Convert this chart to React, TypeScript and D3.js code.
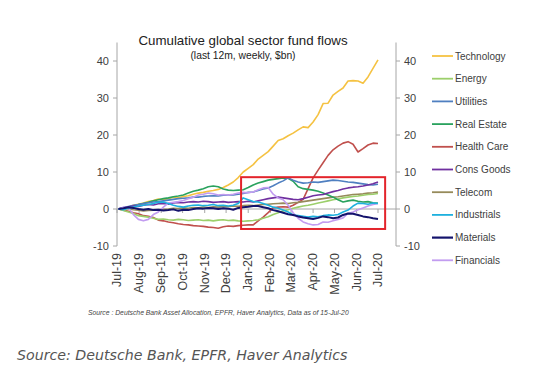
import React from "react";
import * as d3 from "d3";

const START = new Date(2019, 6, 3);
const weeks = d3.range(53).map((i) => d3.timeDay.offset(START, i * 7));

const monthLabels = ["Jul-19","Aug-19","Sep-19","Oct-19","Nov-19","Dec-19","Jan-20","Feb-20","Mar-20","Apr-20","May-20","Jun-20","Jul-20"];
const monthDates = d3.range(13).map((i) => new Date(2019, 6 + i, 1));
const yTicks = [-10, 0, 10, 20, 30, 40];

const technology = [0,0.3,0.5,1.0,1.3,1.6,2.0,2.3,2.7, 2.5,2.8,3.2,3.0,3.4,3.6,4.0,4.3, 4.5,4.8,5.0,5.3,5.8,6.5,7.3, 8.5,10.0,11.0,12.0,13.5,14.5,15.5, 17.0,18.5,19.0,19.8,20.5,21.4,22.2, 22.0,23.5,25.5,28.5,28.6,30.8,31.8, 32.7,34.6,34.7,34.6,34.0,35.7,38.0,40.3];
const energy = [0,-0.4,-0.8,-1.2,-1.8,-2.0,-2.2,-2.5,-2.8, -2.7,-2.9,-3.0,-2.8,-2.9,-3.1,-3.0,-2.9, -3.1,-3.0,-3.2,-3.0,-2.9,-3.1,-3.0, -3.2,-3.3,-3.2,-3.1,-2.9,-2.5,-2.1, -1.5,-1.0,-0.5,-0.2,0.2,0.5,0.8, 1.0,1.3,1.6,1.9,2.2,2.5,2.7, 3.0,3.2,3.4,3.5,3.7,3.9,4.0,4.2];
const utilities = [0,0.4,0.7,1.0,1.2,1.5,1.7,1.9,2.0, 2.2,2.4,2.6,2.8,2.9,3.0,3.2,3.2, 3.4,3.5,3.6,3.5,3.7,3.8,3.8, 4.0,4.2,4.5,4.6,5.0,5.4,5.7, 6.3,7.0,7.6,8.4,7.8,7.3,7.0, 7.1,7.3,7.2,7.4,7.6,7.8,7.7, 7.5,7.3,7.2,7.0,6.8,6.6,6.5,6.7];
const realEstate = [0,0.3,0.6,0.8,1.2,1.5,1.8,2.2,2.5, 2.8,3.0,3.3,3.5,3.8,4.3,4.8,5.1, 5.5,6.0,6.2,6.0,5.4,5.1,5.0, 5.1,5.2,5.8,6.5,7.0,7.4,7.8, 8.0,8.2,8.4,8.3,7.5,6.0,5.5, 5.3,5.1,4.8,4.3,3.8,3.2,2.5, 1.9,2.2,2.4,2.1,1.9,2.0,1.7,1.6];
const healthCare = [0,-0.3,-0.6,-1.0,-1.3,-1.8,-2.0,-2.3,-3.0, -3.2,-3.5,-3.7,-4.0,-4.2,-4.3,-4.5,-4.6, -4.7,-4.9,-5.0,-5.2,-4.8,-4.6,-4.7, -4.5,-4.4,-4.3,-4.3,-3.2,-2.2,-1.0, 0.3,0.5,0.6,0.5,1.0,1.8,2.6, 5.5,8.4,10.5,12.5,14.5,16.0,17.0, 17.8,18.2,17.5,15.4,16.3,17.3,17.8,17.7];
const consGoods = [0,0.3,0.5,0.8,0.7,1.0,1.2,1.1,1.4, 1.5,1.3,1.6,1.8,1.7,1.9,2.0,1.9, 2.1,2.0,1.8,1.9,2.0,1.8,1.9, 2.0,1.9,2.1,1.9,2.2,2.5,2.8, 3.0,3.2,3.0,2.8,2.6,2.5,2.8, 3.2,3.6,3.8,3.9,4.3,4.7,5.0, 5.4,5.7,5.9,6.0,6.2,6.5,6.8,7.3];
const telecom = [0,0.2,0.1,-0.2,-0.3,-0.5,-0.4,-0.3,-0.2, -0.1,0,0.2,0.1,0.3,0.2,0.4,0.3, 0.5,0.4,0.6,0.5,0.7,0.6,0.8, 0.7,0.9,1.0,0.9,1.1,1.2,1.3, 1.4,1.5,1.6,1.5,1.7,1.8,2.0, 2.2,2.4,2.6,2.8,3.0,3.2,3.3, 3.5,3.7,3.9,4.0,4.1,4.3,4.4,4.6];
const industrials = [0,-0.2,0.3,0.5,0.8,1.0,1.2,1.5,1.8, 1.9,1.5,1.0,0.7,0.5,0.8,1.0,1.1, 0.9,1.0,1.2,0.9,1.0,0.8,1.0, 1.5,3.0,2.5,2.0,1.9,1.5,1.0, 0.5,0.2,-0.3,-0.8,-1.6,-1.8,-2.0, -2.2,-2.0,-2.1,-1.8,-1.6,-1.7,-1.5, -0.8,-0.3,0.8,1.6,1.5,1.3,1.6,1.5];
const materials = [0,0.2,0.5,0.3,0.0,-0.2,0.0,-0.3,-0.2, -0.4,-0.3,-0.1,-0.5,-0.2,-0.3,0.0,0.2, 0.1,0.3,0.2,0.0,0.2,0.1,-0.2, 0.3,0.5,0.6,0.8,0.8,0.5,0.2, -0.3,-0.6,-1.0,-1.4,-1.6,-2.0,-2.3, -2.5,-2.7,-2.4,-2.0,-2.2,-2.5,-2.3, -1.6,-1.2,-1.3,-1.6,-2.0,-2.2,-2.5,-2.7];
const financials = [0,0.5,0.3,-1.5,-2.8,-3.2,-2.8,-1.5,-0.8, 0.5,1.6,1.8,2.0,2.3,2.8,3.2,3.8, 4.0,4.3,4.1,3.8,3.9,3.8,4.0, 4.3,4.5,4.4,4.6,5.2,5.7,5.8, 4.0,3.0,2.5,1.0,-1.0,-2.5,-3.5, -4.0,-4.3,-4.2,-3.5,-3.6,-3.2,-2.8, -2.4,-1.2,-0.8,-0.2,0.3,0.8,1.2,1.5];

const seriesNames = ["Technology","Energy","Utilities","Real Estate","Health Care","Cons Goods","Telecom","Industrials","Materials","Financials"];
const seriesValues = [technology, energy, utilities, realEstate, healthCare, consGoods, telecom, industrials, materials, financials];
const seriesColors = ["#F5C242","#9CCF6B","#4F7FC0","#2AA25E","#C0504D","#7030A0","#968A5A","#1EB0DE","#14136C","#C29CF0"];
// draw order (back to front)
const drawOrder = [0,4,6,1,3,2,5,9,7,8];

// annotation box (date range, value range)
const boxStart = new Date(2019, 11, 22);
const boxEnd = new Date(2020, 6, 11);
const boxTop = 8.6;
const boxBottom = -5.4;

const FONT = "'Liberation Sans', Arial, sans-serif";

export default function App() {
  const x = d3.scaleTime().domain([new Date(2019, 6, 1), new Date(2020, 6, 1)]).range([117, 378]);
  const y = d3.scaleLinear().domain([-10, 45]).range([246, 42.5]);
  const leftX = 117;
  const rightX = 396;
  const line = d3.line<number>().x((_, i) => x(weeks[i])).y((d) => y(d));

  return (
    <svg width={554} height={372} style={{ position: "absolute", left: 0, top: 0, background: "#fff" }} fontFamily={FONT}>
      <rect x={0} y={0} width={554} height={372} fill="#fff" />
      {/* title */}
      <text x={243} y={45} textAnchor="middle" fontSize={13.3} fill="#222">Cumulative global sector fund flows</text>
      <text x={243} y={59} textAnchor="middle" fontSize={10.3} fill="#222">(last 12m, weekly, $bn)</text>

      {/* left axis */}
      <line x1={leftX} x2={leftX} y1={y(45)} y2={y(-10)} stroke="#a6a6a6" strokeWidth={1} />
      {yTicks.map((t) => (
        <g key={"l" + t}>
          <line x1={leftX - 4} x2={leftX} y1={y(t)} y2={y(t)} stroke="#a6a6a6" />
          <text x={leftX - 8} y={y(t)} dy="0.35em" textAnchor="end" fontSize={11} fill="#404040">{t}</text>
        </g>
      ))}
      {/* right axis */}
      <line x1={rightX} x2={rightX} y1={y(45)} y2={y(-10)} stroke="#a6a6a6" strokeWidth={1} />
      {yTicks.map((t) => (
        <g key={"r" + t}>
          <line x1={rightX} x2={rightX + 4} y1={y(t)} y2={y(t)} stroke="#a6a6a6" />
          <text x={rightX + 8} y={y(t)} dy="0.35em" textAnchor="start" fontSize={11} fill="#404040">{t}</text>
        </g>
      ))}
      {/* zero line with month ticks */}
      <line x1={leftX} x2={rightX} y1={y(0)} y2={y(0)} stroke="#a6a6a6" />
      {monthDates.map((d, i) => (
        <line key={"mt" + i} x1={x(d)} x2={x(d)} y1={y(0)} y2={y(0) + 4} stroke="#a6a6a6" />
      ))}

      {/* series */}
      {drawOrder.map((k) => (
        <path key={seriesNames[k]} d={line(seriesValues[k]) || ""} fill="none" stroke={seriesColors[k]}
          strokeWidth={k === 8 ? 2 : 1.6} strokeLinejoin="round" />
      ))}

      {/* annotation box */}
      <rect x={x(boxStart)} y={y(boxTop)} width={x(boxEnd) - x(boxStart)} height={y(boxBottom) - y(boxTop)}
        fill="none" stroke="#E3242B" strokeWidth={2} />

      {/* x labels */}
      {monthDates.map((d, i) => (
        <text key={"ml" + i} transform={`translate(${x(d) + 4},${253}) rotate(-90)`} textAnchor="end"
          fontSize={12.5} fill="#404040">{monthLabels[i]}</text>
      ))}

      {/* legend */}
      {seriesNames.map((n, i) => (
        <g key={"lg" + n} transform={`translate(432,${56 + i * 22.7})`}>
          <line x1={0} x2={21} y1={0} y2={0} stroke={seriesColors[i]} strokeWidth={i === 8 ? 2.2 : 1.8} />
          <text x={23} y={0} dy="0.35em" fontSize={10} fill="#404040">{n}</text>
        </g>
      ))}

      {/* source */}
      <text x={88} y={315} fontSize={6.8} fontStyle="italic" fill="#444">Source : Deutsche Bank Asset Allocation, EPFR, Haver Analytics, Data as of 15-Jul-20</text>
      <text x={17} y={360} fontSize={14.2} fontStyle="italic" fill="#555" fontFamily="'DejaVu Sans', Verdana, sans-serif">Source: Deutsche Bank, EPFR, Haver Analytics</text>
    </svg>
  );
}
